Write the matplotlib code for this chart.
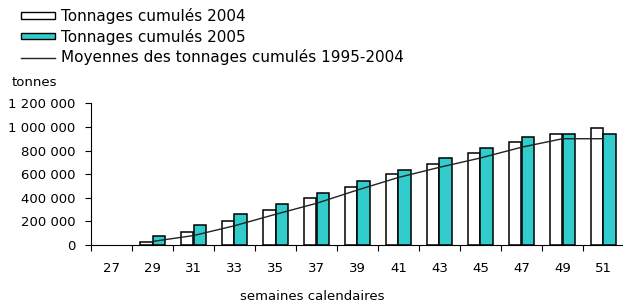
import numpy as np
import matplotlib.pyplot as plt
from matplotlib.patches import Patch
from matplotlib.lines import Line2D
from matplotlib.ticker import FuncFormatter

# semaines calendaires (une sur deux)
weeks = ['27', '29', '31', '33', '35', '37', '39', '41', '43', '45', '47', '49', '51']

# tonnages cumulés (tonnes) - pas de valeur pour la semaine 27
cumul_2004 = [np.nan, 28000, 107000, 200000, 294000, 395000, 489000, 599000,
              684000, 780000, 870000, 940000, 989000]
cumul_2005 = [np.nan, 74000, 167000, 260000, 345000, 438000, 540000, 633000,
              734000, 819000, 912000, 940000, 940000]
# moyenne 1995-2004
moyenne = [np.nan, 30000, 80000, 163000, 260000, 353000, 466000, 572000,
           658000, 737000, 828000, 900000, 900000]

teal = '#33CCCC'
plt.rcParams['font.family'] = 'DejaVu Sans'

fig = plt.figure(figsize=(6.23, 3.04), dpi=100)
ax = fig.add_axes([91 / 623, 1 - 245 / 304, 533 / 623, (245 - 103.3) / 304])

x = np.arange(len(weeks))
w = 0.30
ax.bar(x - w / 2, cumul_2004, w, color='white', edgecolor='black', linewidth=1.1)
ax.bar(x + w / 2, cumul_2005, w, color=teal, edgecolor='black', linewidth=1.1)
ax.plot(x, moyenne, color='#222222', linewidth=1.0)

ax.set_xlim(-0.5, len(weeks) - 0.5)
ax.set_ylim(0, 1200000)
ax.set_yticks(np.arange(0, 1200001, 200000))
ax.yaxis.set_major_formatter(FuncFormatter(lambda v, p: f'{int(v):,}'.replace(',', ' ')))

ax.set_xticks(x)
ax.set_xticklabels(weeks)
ax.set_xticks(np.arange(-0.5, len(weeks), 1), minor=True)
ax.tick_params(axis='x', which='major', length=0, pad=12, labelsize=9.5)
ax.tick_params(axis='x', which='minor', length=4, width=0.8, direction='out')
ax.tick_params(axis='y', length=4, width=0.8, pad=7, labelsize=9.5)

for s in ['top', 'right']:
    ax.spines[s].set_visible(False)
ax.spines['left'].set_linewidth(0.8)
ax.spines['bottom'].set_linewidth(0.8)

handles = [
    Patch(facecolor='white', edgecolor='black', linewidth=1.0),
    Patch(facecolor=teal, edgecolor='black', linewidth=1.0),
    Line2D([], [], color='#222222', linewidth=1.0),
]
labels = ['Tonnages cumulés 2004', 'Tonnages cumulés 2005',
          'Moyennes des tonnages cumulés 1995-2004']
fig.legend(handles, labels, loc='upper left', bbox_to_anchor=(21 / 623, 1 - 8 / 304),
           frameon=False, fontsize=11, handlelength=2.2, handleheight=0.3,
           handletextpad=0.4, labelspacing=0.3, borderpad=0, borderaxespad=0)

fig.text(12 / 623, 1 - 82 / 304, 'tonnes', fontsize=9.5, va='center', ha='left')
fig.text(312 / 623, 1 - 297 / 304, 'semaines calendaires', fontsize=9.5,
         va='center', ha='center')

fig.savefig('out.png', dpi=100)
